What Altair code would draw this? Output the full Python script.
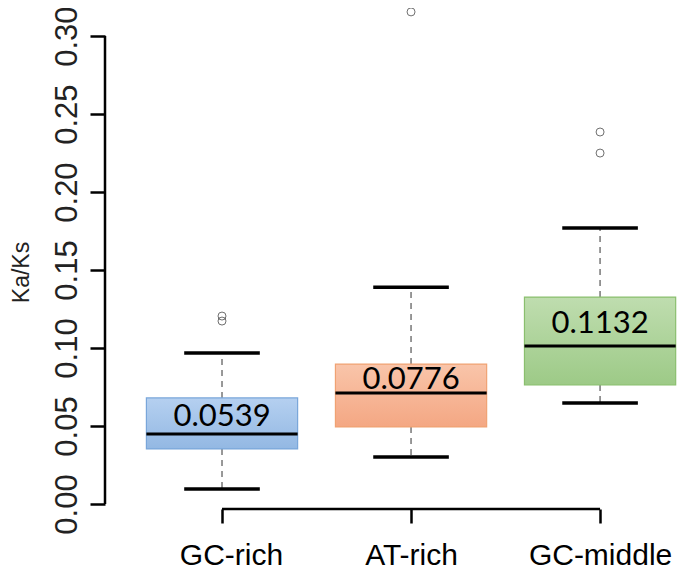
import altair as alt
import pandas as pd

# ---- data ----
groups = ["GC-rich", "AT-rich", "GC-middle"]
q1 = [0.0353, 0.0494, 0.0763]
median = [0.0449, 0.0712, 0.1013]
q3 = [0.0680, 0.0897, 0.1327]
whisk_lo = [0.0096, 0.0301, 0.0647]
whisk_hi = [0.0968, 0.1390, 0.1769]
means = [0.0539, 0.0776, 0.1132]
mean_labels = ["0.0539", "0.0776", "0.1132"]
outlier_group = ["GC-rich", "GC-rich", "AT-rich", "GC-middle", "GC-middle"]
outlier_values = [0.1205, 0.1173, 0.3155, 0.2385, 0.2250]
y_ticks = [0.00, 0.05, 0.10, 0.15, 0.20, 0.25, 0.30]

fill_top = ["#B5D0F0", "#F9C5AA", "#BFDDAF"]
fill_bot = ["#93B8E3", "#F4A783", "#9DCA87"]
stroke_col = ["#79A6DA", "#F0A273", "#8ABF6E"]

pos = {g: i + 1 for i, g in enumerate(groups)}
box_df = pd.DataFrame({
    "group": groups, "idx": [pos[g] for g in groups],
    "q1": q1, "median": median, "q3": q3,
    "lo": whisk_lo, "hi": whisk_hi, "mean": means, "label": mean_labels,
})
out_df = pd.DataFrame({"group": outlier_group,
                       "idx": [pos[g] for g in outlier_group],
                       "value": outlier_values})

HALF_BOX = 0.4
HALF_CAP = 0.2

xscale = alt.Scale(domain=[0.381, 3.407], nice=False, zero=False)
yscale = alt.Scale(domain=[-0.0032, 0.318], nice=False, zero=False)

label_expr = " : ".join(
    [f"datum.value == {pos[g]} ? '{g}'" for g in groups]) + " : ''"

x_axis = alt.Axis(values=[1, 2, 3], labelExpr=label_expr, domain=False,
                  grid=False, ticks=True, tickSize=14, tickWidth=2.5,
                  tickColor="black", labelFont="Liberation Sans",
                  labelFontSize=30, labelColor="black", labelPadding=17,
                  labelOffset={"condition": {"test": "datum.value == 1", "value": 9}, "value": 0},
                  title=None)
y_axis = alt.Axis(values=y_ticks, format=".2f", domain=False, grid=False,
                  tickSize=15, tickWidth=2.5, tickColor="black",
                  labelAngle=270, labelAlign="center", labelBaseline="bottom",
                  labelFont="Liberation Sans", labelFontSize=31,
                  labelColor="#222222", labelPadding=7,
                  title="Ka/Ks", titleFont="Liberation Sans", titleFontSize=23,
                  titleFontWeight="normal", titleColor="#222222",
                  titleAngle=270, titleX=-84, titleY=264,
                  titleAlign="center", titleBaseline="middle")

base = alt.Chart(box_df)

# axes carriers (invisible points define scales/axes)
axes = base.mark_point(opacity=0).encode(
    x=alt.X("idx:Q", scale=xscale, axis=x_axis),
    y=alt.Y("median:Q", scale=yscale, axis=y_axis),
)

y_line = alt.Chart(pd.DataFrame({"a": [0.0], "b": [0.30]})).mark_rule(
    color="black", strokeWidth=2.5).encode(
    x=alt.value(0), y=alt.Y("a:Q", scale=yscale), y2="b:Q")
x_line = alt.Chart(pd.DataFrame({"a": [1], "b": [3]})).mark_rule(
    color="black", strokeWidth=2.5).encode(
    y=alt.value(501), x=alt.X("a:Q", scale=xscale), x2="b:Q")

whisk_up = base.mark_rule(color="#777777", strokeWidth=1.5,
                          strokeDash=[6, 5]).encode(
    x=alt.X("idx:Q", scale=xscale), y=alt.Y("q3:Q", scale=yscale), y2="hi:Q")
whisk_dn = base.mark_rule(color="#777777", strokeWidth=1.5,
                          strokeDash=[6, 5]).encode(
    x=alt.X("idx:Q", scale=xscale), y=alt.Y("q1:Q", scale=yscale), y2="lo:Q")

caps_hi = base.transform_calculate(
    xa=f"datum.idx - {HALF_CAP}", xb=f"datum.idx + {HALF_CAP}").mark_rule(
    color="black", strokeWidth=3.5).encode(
    x=alt.X("xa:Q", scale=xscale), x2="xb:Q", y=alt.Y("hi:Q", scale=yscale))
caps_lo = base.transform_calculate(
    xa=f"datum.idx - {HALF_CAP}", xb=f"datum.idx + {HALF_CAP}").mark_rule(
    color="black", strokeWidth=3.5).encode(
    x=alt.X("xa:Q", scale=xscale), x2="xb:Q", y=alt.Y("lo:Q", scale=yscale))

boxes = []
for i, g in enumerate(groups):
    grad = alt.LinearGradient(
        gradient="linear",
        stops=[alt.GradientStop(offset=0, color=fill_top[i]),
               alt.GradientStop(offset=1, color=fill_bot[i])],
        x1=0, x2=0, y1=0, y2=1)
    boxes.append(
        base.transform_filter(alt.datum.group == g).transform_calculate(
            xa=f"datum.idx - {HALF_BOX}", xb=f"datum.idx + {HALF_BOX}"
        ).mark_rect(fill=grad, stroke=stroke_col[i], strokeWidth=1.2).encode(
            x=alt.X("xa:Q", scale=xscale), x2="xb:Q",
            y=alt.Y("q1:Q", scale=yscale), y2="q3:Q"))

medians = base.transform_calculate(
    xa=f"datum.idx - {HALF_BOX}", xb=f"datum.idx + {HALF_BOX}").mark_rule(
    color="black", strokeWidth=3).encode(
    x=alt.X("xa:Q", scale=xscale), x2="xb:Q", y=alt.Y("median:Q", scale=yscale))

labels = base.mark_text(font="Lato", fontSize=31, color="black",
                        baseline="middle", dy=-3).encode(
    x=alt.X("idx:Q", scale=xscale), y=alt.Y("mean:Q", scale=yscale),
    text="label:N")

outliers = alt.Chart(out_df).mark_point(
    shape="circle", filled=False, size=64, color="#333333",
    strokeWidth=1).encode(
    x=alt.X("idx:Q", scale=xscale), y=alt.Y("value:Q", scale=yscale))

chart = alt.layer(
    axes, whisk_up, whisk_dn, caps_hi, caps_lo, *boxes, medians, labels,
    outliers, y_line, x_line
).properties(
    width=572, height=501,
    padding={"left": 97, "top": 0, "right": 0, "bottom": 66},
    autosize=alt.AutoSizeParams(type="none"),
).configure(background="white", view=alt.ViewConfig(stroke=None))

chart.save("out.html", embed_options={"renderer": "svg", "actions": False})
